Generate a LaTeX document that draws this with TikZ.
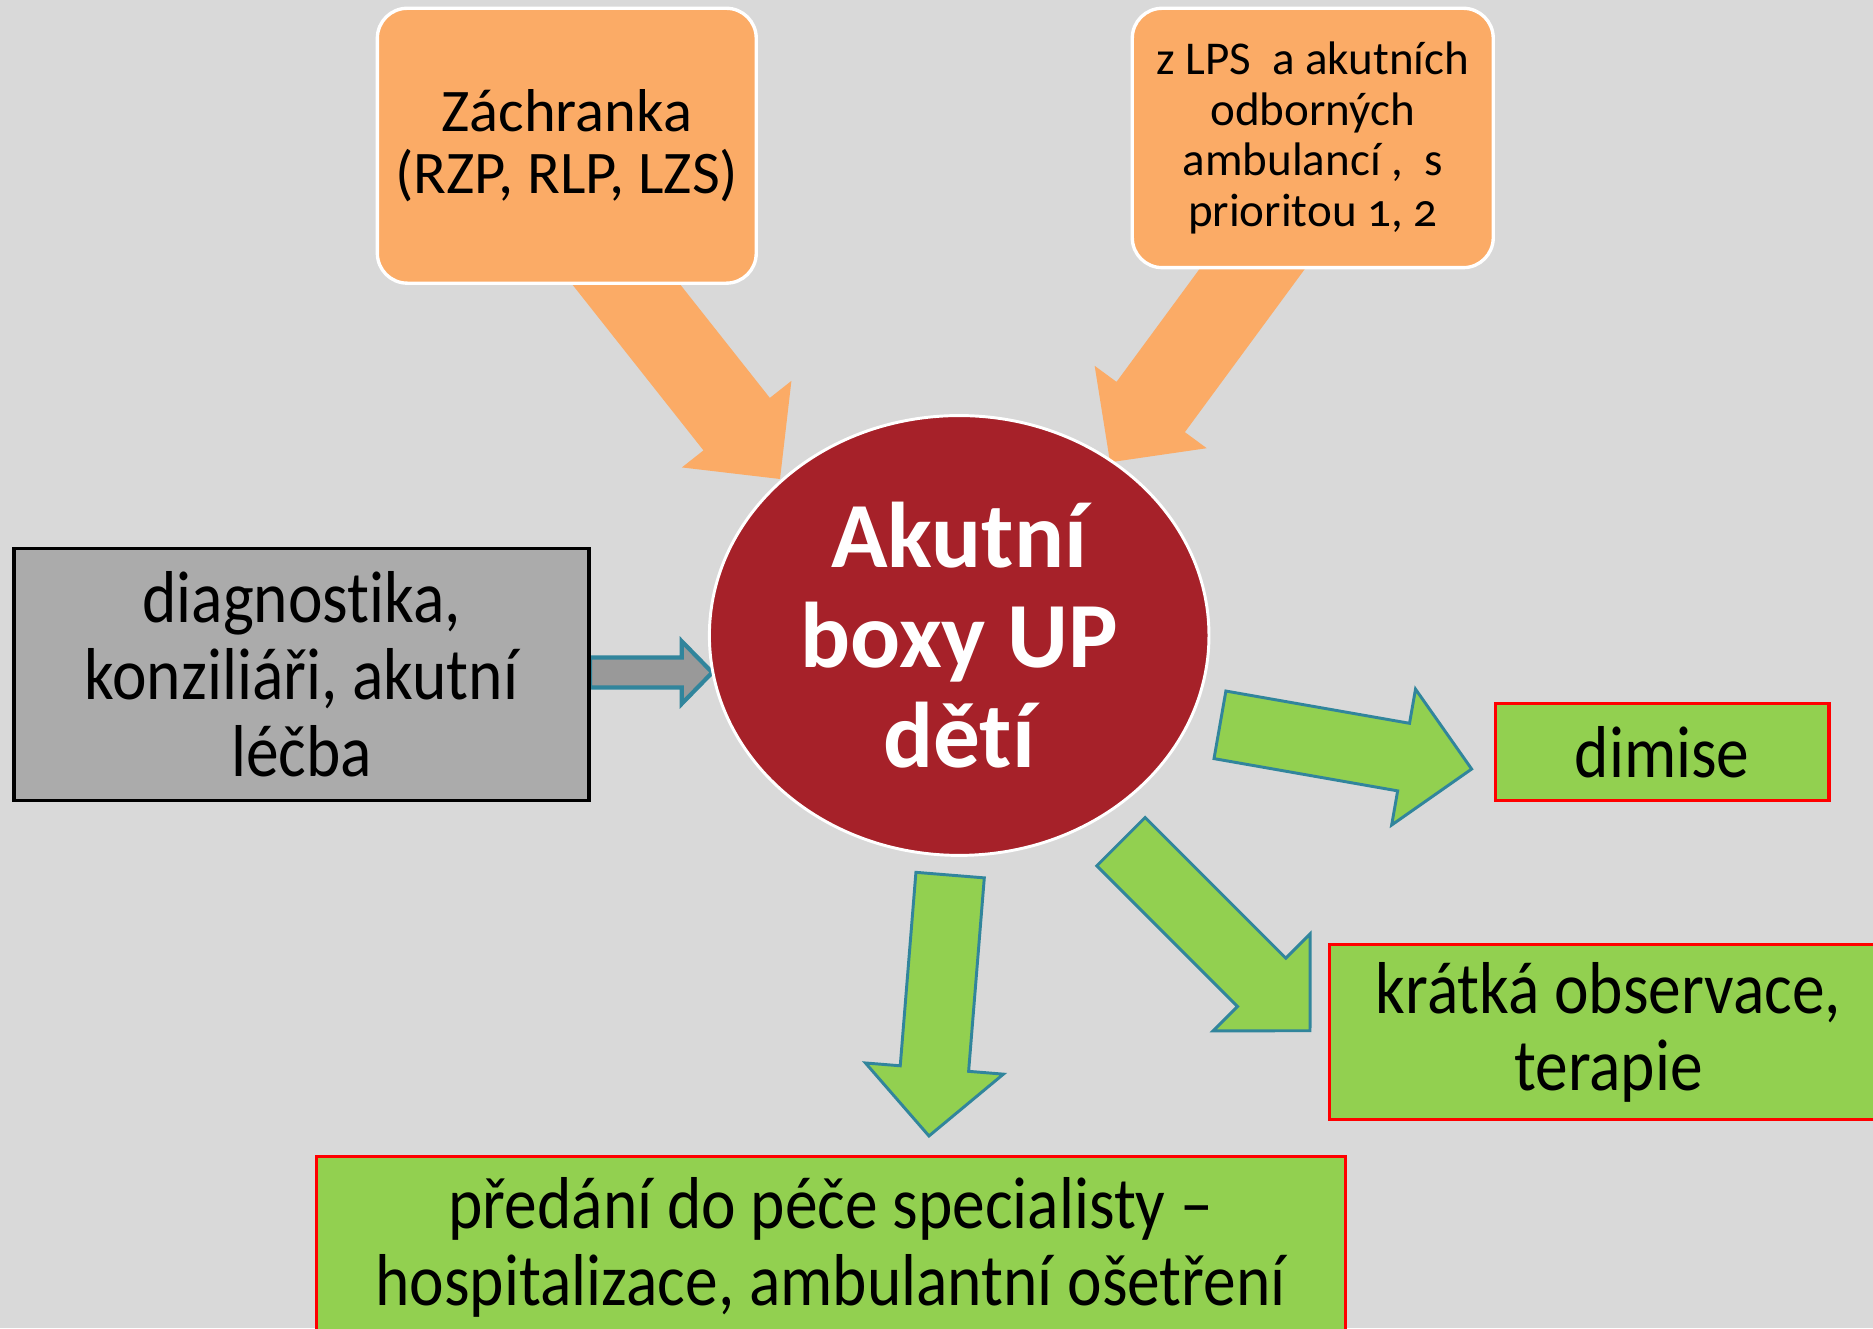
\documentclass[tikz,border=0pt]{standalone}
\usepackage{fontspec}
\setmainfont[Ligatures=NoCommon]{Carlito}
\newfontfamily\narrowfont[FakeStretch=0.89,Ligatures=NoCommon]{Carlito}
\usetikzlibrary{shapes.geometric,calc}

\definecolor{bgcol}{HTML}{D9D9D9}
\definecolor{orcol}{HTML}{FBAB66}
\definecolor{redcol}{HTML}{A62129}
\definecolor{grcol}{HTML}{92D050}
\definecolor{tealcol}{HTML}{31859C}
\definecolor{boxgray}{HTML}{ABABAB}
\definecolor{arrgray}{HTML}{999999}

% block arrow: style, tail, tip, shaft half width, head half width, head length
\newcommand{\blockarr}[6]{%
  \coordinate (ba-n) at ($(#3)!#6!(#2)$);
  \draw[#1] ($(#2)!#4!90:(#3)$) -- ($(ba-n)!#4!90:(#3)$) -- ($(ba-n)!#5!90:(#3)$)
    -- (#3) -- ($(ba-n)!#5!-90:(#3)$) -- ($(ba-n)!#4!-90:(#3)$) -- ($(#2)!#4!-90:(#3)$) -- cycle;
}

\begin{document}
\begin{tikzpicture}[x=0.01cm, y=-0.01cm,
    orbox/.style={rectangle, rounded corners=0.25cm, fill=orcol, draw=white, line width=0.8pt, align=center, inner sep=0pt},
    grbox/.style={rectangle, fill=grcol, draw=red, line width=0.8pt, align=center, inner sep=0pt, font=\narrowfont\fontsize{17.5}{18.4}\selectfont},
    orarrow/.style={fill=orcol, draw=none},
    grarrow/.style={fill=grcol, draw=tealcol, line width=0.7pt, line join=miter},
    gyarrow/.style={fill=arrgray, draw=tealcol, line width=1pt, line join=miter}]
    \useasboundingbox (0,0) rectangle (1568,1112);
    \fill[bgcol] (0,0) rectangle (1568,1112);
    \clip (0,0) rectangle (1568,1112);

    % ends of the arrows
    \coordinate (zach-out) at (461.7,159);
    \coordinate (lps-out) at (1111.5,139.2);
    \coordinate (akut-in1) at (653,401);
    \coordinate (akut-in2) at (929.3,387);
    \coordinate (diag-out) at (494,563);
    \coordinate (akut-in3) at (596.3,563);
    \coordinate (akut-out1) at (1021.3,606.8);
    \coordinate (dim-in) at (1232,643.8);
    \coordinate (akut-out2) at (938.4,704.6);
    \coordinate (obs-in) at (1096.7,862.9);
    \coordinate (akut-out3) at (795.4,732.6);
    \coordinate (pred-in) at (777.7,951);

    \blockarr{orarrow}{zach-out}{akut-in1}{0.354cm}{0.584cm}{0.585cm}
    \blockarr{orarrow}{lps-out}{akut-in2}{0.355cm}{0.582cm}{0.574cm}
    \blockarr{gyarrow}{diag-out}{akut-in3}{0.126cm}{0.262cm}{0.256cm}
    \blockarr{grarrow}{akut-out1}{dim-in}{0.287cm}{0.577cm}{0.578cm}
    \blockarr{grarrow}{akut-out2}{obs-in}{0.286cm}{0.574cm}{0.573cm}
    \blockarr{grarrow}{akut-out3}{pred-in}{0.287cm}{0.579cm}{0.566cm}

    \node[orbox, minimum width=3.17cm, minimum height=2.30cm, font=\fontsize{14.4}{14.8}\selectfont] (zach) at (474.5,122) {Záchranka\\(RZP, RLP, LZS)};
    \node[orbox, minimum width=3.02cm, minimum height=2.17cm, font=\fontsize{11.2}{12}\selectfont] (lps) at (1099,115.5)
        {z LPS~ a akutních\\odborných\\ambulancí ,~ s\\prioritou {\addfontfeatures{Numbers=OldStyle}1, 2}};
    \node[ellipse, fill=redcol, draw=white, line width=0.7pt, minimum width=4.18cm, minimum height=3.68cm, inner sep=0pt,
        align=center, text=white, font=\bfseries\fontsize{22.2}{23.8}\selectfont] (akut) at (803,532) {Akutní\\boxy UP\\dět\kern0ptí};
    \node[rectangle, fill=boxgray, draw=black, line width=0.8pt, minimum width=4.81cm, minimum height=2.11cm, inner sep=0pt,
        align=center, font=\narrowfont\fontsize{17.5}{18.4}\selectfont] (diag) at (252.5,564.5) {diagnost\kern0pt ika,\\konziliáři, akutní\\léčba};
    \node[grbox, minimum width=2.79cm, minimum height=0.81cm] (dim) at (1391.5,629.5) {dimise};
    \node[grbox, minimum width=4.67cm, minimum height=1.46cm] (obs) at (1346.5,864) {krátká observace,\\terapie};
    \node[grbox, minimum width=8.61cm, minimum height=1.52cm] (pred) at (695.5,1044) {předání do péče specialisty –\\hospitalizace, ambulantní ošetření};
\end{tikzpicture}
\end{document}
